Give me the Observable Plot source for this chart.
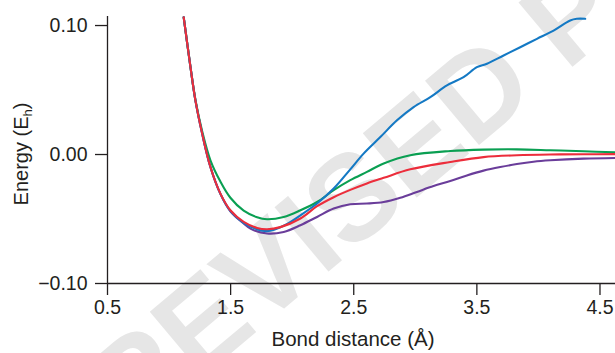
<!DOCTYPE html>
<html><head><meta charset="utf-8">
<script src="https://cdn.jsdelivr.net/npm/d3@7"></script>
<script src="https://cdn.jsdelivr.net/npm/@observablehq/plot@0.6"></script>
<style>
html,body{margin:0;padding:0;background:#fff;}
#chart{width:615px;height:353px;overflow:hidden;}
</style></head><body><div id="chart"></div>
<script>
// ---- data ----
const seriesNames = ["s4", "s2", "s1", "s3"];   // drawing order: purple, green, blue, red
const seriesColors = ["#6a3d9a", "#0a9f52", "#1479c4", "#ec2d3b"];

const redX = [1.119,1.174,1.214,1.269,1.336,1.417,1.498,1.606,1.715,1.796,1.904,2.067,2.202,2.337,2.472,2.607,2.743,2.959,3.284,3.554,3.825,4.096,4.366,4.623];
const redY = [0.1064,0.0677,0.0420,0.0162,-0.0097,-0.0303,-0.0432,-0.0522,-0.0569,-0.0579,-0.0563,-0.0496,-0.0401,-0.0331,-0.0274,-0.0224,-0.0181,-0.0115,-0.0058,-0.0020,-0.0006,0.0000,0.0002,0.0003];

const greenX = [1.119,1.174,1.214,1.269,1.336,1.417,1.498,1.606,1.715,1.796,1.931,2.067,2.202,2.337,2.472,2.607,2.743,2.959,3.284,3.554,3.825,4.096,4.366,4.623];
const greenY = [0.1064,0.0677,0.0425,0.0180,-0.0045,-0.0210,-0.0335,-0.0435,-0.0486,-0.0502,-0.0484,-0.0432,-0.0368,-0.0277,-0.0199,-0.0135,-0.0070,-0.0006,0.0027,0.0038,0.0040,0.0033,0.0025,0.0017];

const blueX = [1.119,1.174,1.214,1.269,1.336,1.417,1.498,1.606,1.715,1.796,1.931,2.067,2.202,2.337,2.472,2.580,2.716,2.851,2.986,3.122,3.257,3.392,3.500,3.582,3.717,3.852,3.988,4.123,4.258,4.312,4.380];
const blueY = [0.1064,0.0677,0.0420,0.0162,-0.0097,-0.0305,-0.0437,-0.0530,-0.0580,-0.0594,-0.0552,-0.0471,-0.0380,-0.0264,-0.0115,0.0007,0.0135,0.0265,0.0368,0.0445,0.0536,0.0600,0.0677,0.0704,0.0768,0.0832,0.0897,0.0961,0.1039,0.1052,0.1052];

const purpleX = [1.119,1.174,1.214,1.269,1.336,1.417,1.498,1.606,1.661,1.796,1.931,2.067,2.202,2.337,2.472,2.607,2.743,2.878,3.013,3.148,3.284,3.419,3.554,3.690,3.825,3.960,4.096,4.366,4.623];
const purpleY = [0.1064,0.0677,0.0420,0.0162,-0.0097,-0.0305,-0.0440,-0.0535,-0.0575,-0.0612,-0.0600,-0.0548,-0.0484,-0.0419,-0.0385,-0.0380,-0.0368,-0.0335,-0.0290,-0.0245,-0.0205,-0.0162,-0.0125,-0.0097,-0.0074,-0.0056,-0.0045,-0.0032,-0.0027];

const xTicks = [0.5, 1.5, 2.5, 3.5, 4.5];
const yTicks = [-0.10, 0.00, 0.10];
const xDomain = [0.5, 4.626];
const yDomain = [-0.10, 0.107];
const xTitle = "Bond distance (Å)";
const yTitleMain = "Energy (E";
const yTitleSub = "h";
const watermark = "REVISED PROOF";

// ---- build table ----
const seriesXY = {s4:[purpleX,purpleY], s2:[greenX,greenY], s1:[blueX,blueY], s3:[redX,redY]};
const rows = seriesNames.flatMap(name => {
  const [xs, ys] = seriesXY[name];
  return xs.map((x, i) => ({series: name, x, y: ys[i]}));
});

const ink = "#231f20";
const plot = Plot.plot({
  width: 615, height: 353,
  marginLeft: 107, marginRight: 0, marginTop: 16, marginBottom: 70,
  style: {fontFamily: "'Liberation Sans', Arial, Helvetica, sans-serif", fontSize: "19.5px", color: ink, background: "transparent", overflow: "visible"},
  x: {domain: xDomain, label: null},
  y: {domain: yDomain, label: null},
  color: {domain: seriesNames, range: seriesColors},
  marks: [
    Plot.axisX({ticks: xTicks, tickFormat: d3.format(".1f"), tickSize: 12, tickPadding: 5, stroke: ink, strokeWidth: 1.3, strokeOpacity: 1, label: null}),
    Plot.axisY({ticks: yTicks, tickFormat: d3.format(".2f"), tickSize: 12, tickPadding: 8, stroke: ink, strokeWidth: 1.3, strokeOpacity: 1, label: null}),
    Plot.ruleX([xDomain[0]], {stroke: ink, strokeWidth: 1.3}),
    Plot.ruleY([yDomain[0]], {stroke: ink, strokeWidth: 1.3}),
    Plot.line(rows, {x: "x", y: "y", z: "series", stroke: "series", strokeWidth: 2.1, curve: "catmull-rom"})
  ]
});

const svg = d3.select(plot);
// watermark behind everything
svg.insert("text", ":first-child")
  .attr("transform", "translate(130,438) rotate(-40)")
  .attr("text-anchor", "start")
  .attr("font-family", "'Liberation Sans', Arial, sans-serif")
  .attr("font-weight", "bold")
  .attr("font-size", 122)
  .attr("fill", "#e6e6e6")
  .text(watermark);

// axis titles
svg.append("text")
  .attr("x", 353).attr("y", 346)
  .attr("text-anchor", "middle")
  .attr("fill", ink)
  .attr("font-size", 20.5)
  .text(xTitle);

const yt = svg.append("text")
  .attr("transform", "translate(28,154) rotate(-90)")
  .attr("text-anchor", "middle")
  .attr("fill", ink)
  .attr("font-size", 20);
yt.append("tspan").text(yTitleMain);
yt.append("tspan").attr("font-size", 13).attr("dy", 4).text(yTitleSub);
yt.append("tspan").attr("dy", -4).text(")");

document.getElementById("chart").appendChild(plot);
</script></body></html>
